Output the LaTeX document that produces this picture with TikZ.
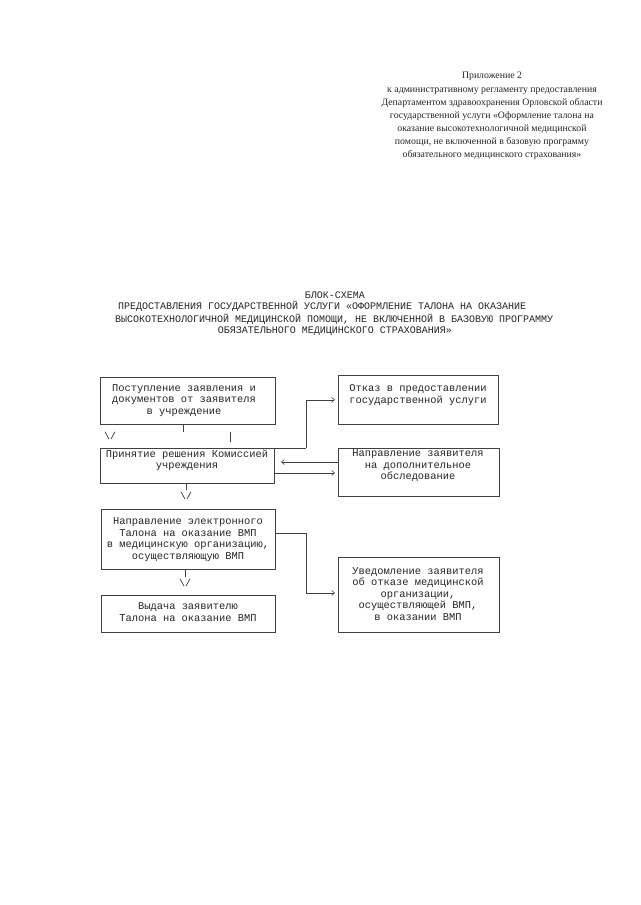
\documentclass[tikz,border=0pt]{standalone}
\usepackage{fontspec}
\setmainfont{Liberation Serif}
\newfontfamily\monofnt{Liberation Mono}
\usetikzlibrary{arrows.meta}
\tikzset{
  box/.style={draw=black!75, line width=0.6pt, inner sep=0pt},
  boxtext/.style={font=\monofnt\fontsize{10.4}{11.6}\selectfont, align=center, inner sep=0pt, text=black!85},
  titletext/.style={font=\monofnt\fontsize{10}{12}\selectfont, inner sep=0pt, text=black!85},
  headtext/.style={font=\fontsize{9.8}{13.1}\selectfont, align=center, inner sep=0pt, text=black!85},
  conn/.style={draw=black!75, line width=0.6pt},
  arr/.style={conn, -{Straight Barb[length=3pt,width=5pt,line width=0.6pt]}},
  vee/.style={font=\monofnt\fontsize{10}{12}\selectfont, inner sep=0pt, text=black!85}
}
\newcommand{\mkbox}[5]{\node[box, minimum width=#4-#2, minimum height=#5-#3, anchor=north west] (#1) at (#2,#3) {};}
\begin{document}
\begin{tikzpicture}[x=1pt, y=-1pt]
\useasboundingbox[fill=white] (0,0) rectangle (640,905);

% header
\node[headtext] (head) at (492,116) {Приложение 2\\
к административному регламенту предоставления\\
Департаментом здравоохранения Орловской области\\
государственной услуги «Оформление талона на\\
оказание высокотехнологичной медицинской\\
помощи, не включенной в базовую программу\\
обязательного медицинского страхования»};

% title
\node[titletext] (t1) at (335,295) {БЛОК-СХЕМА};
\node[titletext, anchor=west] (t2) at (118,306) {ПРЕДОСТАВЛЕНИЯ ГОСУДАРСТВЕННОЙ УСЛУГИ «ОФОРМЛЕНИЕ ТАЛОНА НА ОКАЗАНИЕ};
\node[titletext, anchor=west] (t3) at (115,319) {ВЫСОКОТЕХНОЛОГИЧНОЙ МЕДИЦИНСКОЙ ПОМОЩИ, НЕ ВКЛЮЧЕННОЙ В БАЗОВУЮ ПРОГРАММУ};
\node[titletext] (t4) at (335,331) {ОБЯЗАТЕЛЬНОГО МЕДИЦИНСКОГО СТРАХОВАНИЯ»};

% boxes
\mkbox{b1}{100}{377}{275}{424}
\mkbox{b2}{100}{448}{274}{483}
\mkbox{b3}{101}{509}{275}{569}
\mkbox{b4}{101}{595}{275}{632}
\mkbox{r1}{338}{375}{498}{424}
\mkbox{r2}{338}{448}{499}{496}
\mkbox{r3}{338}{557}{499}{632}

% box texts
\node[boxtext] (b1t) at (184,400.5) {Поступление заявления и\\документов от заявителя\\в учреждение};
\node[boxtext] (b2t) at (187,460.5) {Принятие решения Комиссией\\учреждения};
\node[boxtext] (b3t) at (188,539.5) {Направление электронного\\Талона на оказание ВМП\\в медицинскую организацию,\\осуществляющую ВМП};
\node[boxtext] (b4t) at (188,612) {Выдача заявителю\\Талона на оказание ВМП};
\node[boxtext] (r1t) at (418,395) {Отказ в предоставлении\\государственной услуги};
\node[boxtext] (r2t) at (418,466) {Направление заявителя\\на дополнительное\\обследование};
\node[boxtext] (r3t) at (418,594) {Уведомление заявителя\\об отказе медицинской\\организации,\\осуществляющей ВМП,\\в оказании ВМП};

% vertical flow b1 -> b2
\coordinate (c1) at (183,432);
\draw[conn] (b1.south -| c1) -- (c1);
\node[vee] (v1) at (110,436) {\textbackslash/};
\coordinate (c1a) at (230,432);
\coordinate (c1b) at (230,442);
\draw[conn] (c1a) -- (c1b);

% b2 -> b3
\coordinate (c2) at (186,490);
\draw[conn] (b2.south -| c2) -- (c2);
\node[vee] (v2) at (186,496) {\textbackslash/};

% b3 -> b4
\coordinate (c3) at (185,577);
\draw[conn] (b3.south -| c3) -- (c3);
\node[vee] (v3) at (185,583) {\textbackslash/};

% b2 -> r1
\coordinate (k1) at (306,448);
\draw[conn] (b2.north east) -- (k1);
\draw[arr] (k1) |- ([xshift=-3pt]r1.west);

% r2 <-> b2
\coordinate (k2) at (281,462);
\draw[arr] (r2.west |- k2) -- (k2);
\coordinate (k3) at (274,473);
\draw[arr] (k3) -- ([xshift=-3pt]r2.west |- k3);

% b3 -> r3
\coordinate (k4) at (306,533);
\draw[conn] (b3.east |- k4) -- (k4);
\draw[arr] (k4) |- ([xshift=-3pt]r3.west |- 0,593);

\end{tikzpicture}
\end{document}
